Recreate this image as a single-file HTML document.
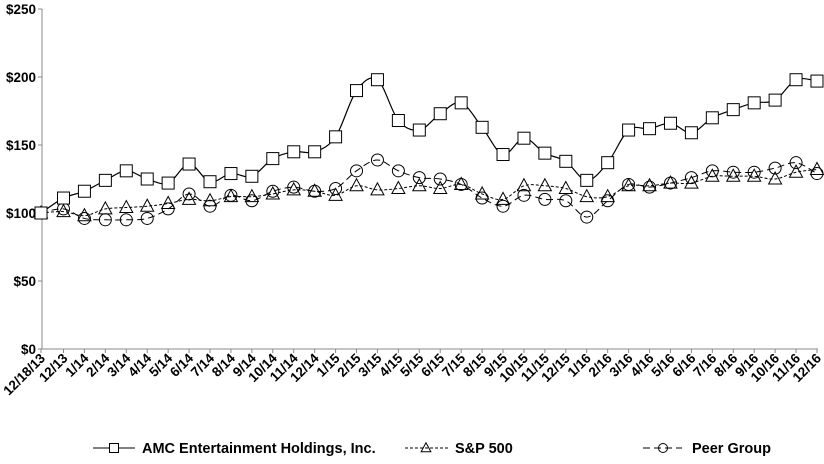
<!DOCTYPE html><html><head><style>body{margin:0;background:#fff}svg{font-family:"Liberation Sans",Arial,sans-serif;font-weight:bold}</style></head><body>
<svg id="s" width="824" height="459" xmlns="http://www.w3.org/2000/svg"></svg>
<script>
var s=document.getElementById('s'),h='';
var amc=[100,111,116,124,131,125,122,136,123,129,127,140,145,145,156,190,198,168,161,173,181,163,143,155,144,138,124,137,161,162,166,159,170,176,181,183,198,197];
var sp=[100,101,98,103,104,105,107,110,109,112,112,114,117,116,113,120,117,118,120,118,121,114,110,120,120,118,112,112,120,120,122,122,127,127,127,125,130,132];
var pg=[100,103,96,95,95,96,103,114,105,113,109,116,119,116,118,131,139,131,126,125,121,111,105,113,110,109,97,109,121,119,122,126,131,130,130,133,137,129];
var labs=['12/18/13','12/13'];['14','15','16'].forEach(function(y){for(var m=1;m<=12;m++)labs.push(m+'/'+y)});
function X(i){return i==0?41:63.5+20.93*(i-1)}
function Y(v){return 349-v*1.36}
h+='<line x1="42" y1="9" x2="42" y2="349" stroke="#888"/><line x1="42" y1="349" x2="818" y2="349" stroke="#888"/>';
for(var v=0;v<=250;v+=50){h+='<line x1="38" x2="42" y1="'+Y(v)+'" y2="'+Y(v)+'" stroke="#888"/><text x="36" y="'+(Y(v)+5)+'" font-size="13.5" text-anchor="end">$'+v+'</text>';}
for(var i=0;i<labs.length;i++){var x=X(i);h+='<line x1="'+x+'" x2="'+x+'" y1="349" y2="353" stroke="#888"/><text transform="translate('+(x+5)+',359) rotate(-45)" font-size="13.5" text-anchor="end">'+labs[i]+'</text>';}
function path(d){var p='M'+X(0)+','+Y(d[0]);for(var i=0;i<d.length-1;i++){var x0=X(Math.max(i-1,0)),y0=Y(d[Math.max(i-1,0)]),x1=X(i),y1=Y(d[i]),x2=X(i+1),y2=Y(d[i+1]),j=Math.min(i+2,d.length-1),x3=X(j),y3=Y(d[j]);p+=' C'+(x1+(x2-x0)/6)+','+(y1+(y2-y0)/6)+' '+(x2-(x3-x1)/6)+','+(y2-(y3-y1)/6)+' '+x2+','+y2;}return p}
h+='<path d="'+path(sp)+'" fill="none" stroke="#000" stroke-dasharray="3,2"/>';
h+='<path d="'+path(pg)+'" fill="none" stroke="#000" stroke-dasharray="7,4"/>';
h+='<path d="'+path(amc)+'" fill="none" stroke="#000" stroke-width="1.2"/>';
function sq(x,y,r){r=r||6;return '<rect x="'+(x-r)+'" y="'+(y-r)+'" width="'+2*r+'" height="'+2*r+'" fill="#fff" stroke="#000"/>'}
function tr(x,y,r){r=r||1;return '<polygon points="'+x+','+(y-7*r)+' '+(x-6.5*r)+','+(y+5*r)+' '+(x+6.5*r)+','+(y+5*r)+'" fill="none" stroke="#000"/>'}
function ci(x,y,r){r=r||6;return '<circle cx="'+x+'" cy="'+y+'" r="'+r+'" fill="none" stroke="#000"/>'}
for(i=0;i<38;i++){h+=tr(X(i),Y(sp[i]));h+=ci(X(i),Y(pg[i]));}
for(i=0;i<38;i++)h+=sq(X(i),Y(amc[i]));
h+='<line x1="93" x2="135" y1="448" y2="448" stroke="#000"/>'+sq(114,448,4.5)+'<text x="142" y="453" font-size="14.5">AMC Entertainment Holdings, Inc.</text>';
h+='<line x1="405" x2="448" y1="448" y2="448" stroke="#000" stroke-dasharray="3,2"/>'+tr(426,448,0.75)+'<text x="455" y="453" font-size="14.5">S&amp;P 500</text>';
h+='<line x1="643" x2="682" y1="448" y2="448" stroke="#000" stroke-dasharray="7,4"/>'+ci(663,448,4.5)+'<text x="692" y="453" font-size="14.5">Peer Group</text>';
s.innerHTML=h;
</script></body></html>
